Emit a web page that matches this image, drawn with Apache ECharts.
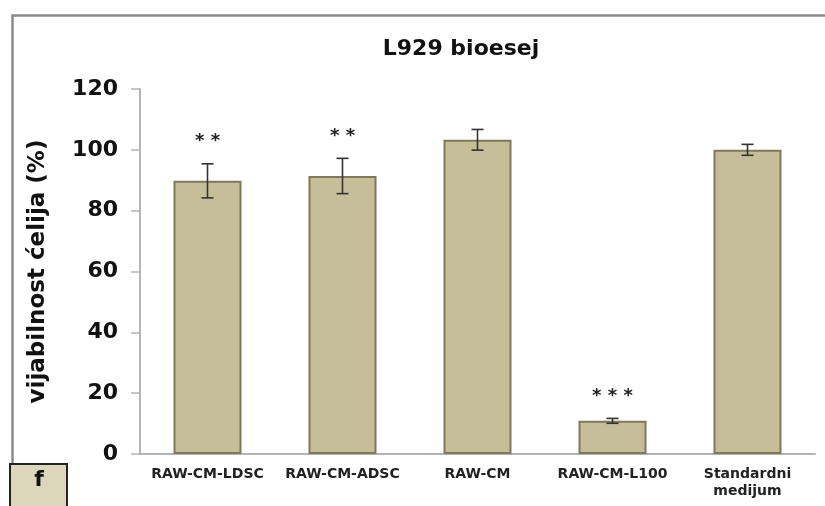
<!DOCTYPE html>
<html>
<head>
<meta charset="utf-8">
<script src="https://cdn.jsdelivr.net/npm/echarts@6/dist/echarts.min.js"></script>
<style>
  html, body { margin: 0; padding: 0; background: #fff; }
  #chart { width: 825px; height: 506px; }
</style>
</head>
<body>
<div id="chart"></div>
<script>
// Cell viability in the L929 bioassay (mean ± SD)
const categories = ['RAW-CM-LDSC', 'RAW-CM-ADSC', 'RAW-CM', 'RAW-CM-L100', 'Standardni\nmedijum'];
const viability = [89.8, 91.4, 103.3, 10.9, 100.0];
const errors = [5.6, 5.8, 3.4, 0.8, 1.8];
const significance = ['* *', '* *', '', '* * *', ''];
const yTicks = [0, 20, 40, 60, 80, 100, 120];

const FONT = '"DejaVu Sans", Verdana, sans-serif';

const chart = echarts.init(document.getElementById('chart'), null, { renderer: 'canvas' });

const errorData = categories.map((c, i) => [i, viability[i] - errors[i], viability[i] + errors[i], significance[i]]);

const option = {
  backgroundColor: '#ffffff',
  animation: false,
  title: {
    text: 'L929 bioesej',
    left: 456,
    top: 33,
    textAlign: 'center',
    textStyle: { fontFamily: FONT, fontSize: 22, fontWeight: 'bold', color: '#111' }
  },
  grid: { left: 140, right: 10, top: 89, bottom: 52, containLabel: false },
  xAxis: {
    type: 'category',
    data: categories,
    axisLine: { lineStyle: { color: '#b4b4b4', width: 2 } },
    axisTick: { show: false },
    axisLabel: {
      fontFamily: FONT, fontSize: 14, fontWeight: 'bold', color: '#222',
      margin: 12, lineHeight: 17, interval: 0
    }
  },
  yAxis: {
    type: 'value',
    min: 0, max: 120, interval: 20,
    name: 'vijabilnost ćelija (%)',
    nameLocation: 'middle',
    nameRotate: 90,
    nameGap: 90,
    nameTextStyle: { fontFamily: FONT, fontSize: 23, fontWeight: 'bold', color: '#111' },
    axisLine: { show: true, lineStyle: { color: '#b4b4b4', width: 2 } },
    axisTick: { show: true, length: 9, lineStyle: { color: '#b4b4b4', width: 1.5 } },
    splitLine: { show: false },
    axisLabel: {
      fontFamily: FONT, fontSize: 22, fontWeight: 'bold', color: '#111', margin: 22,
      formatter: v => (yTicks.includes(v) ? String(v) : '')
    }
  },
  series: [
    {
      type: 'bar',
      data: viability,
      barWidth: 68,
      itemStyle: { color: '#c6be99', borderColor: '#7f785a', borderWidth: 2 },
      z: 2
    },
    {
      type: 'custom',
      data: errorData,
      z: 3,
      renderItem: (params, api) => {
        const x = api.value(0);
        const lo = api.coord([x, api.value(1)]);
        const hi = api.coord([x, api.value(2)]);
        const cap = 6;
        const style = { stroke: '#333', lineWidth: 1.6, fill: null };
        const children = [
          { type: 'line', shape: { x1: lo[0], y1: lo[1], x2: hi[0], y2: hi[1] }, style },
          { type: 'line', shape: { x1: lo[0] - cap, y1: lo[1], x2: lo[0] + cap, y2: lo[1] }, style },
          { type: 'line', shape: { x1: hi[0] - cap, y1: hi[1], x2: hi[0] + cap, y2: hi[1] }, style }
        ];
        const sig = errorData[params.dataIndex][3];
        if (sig) {
          children.push({
            type: 'text',
            style: {
              text: sig, x: hi[0], y: hi[1] - 22,
              align: 'center', verticalAlign: 'middle',
              font: 'bold 18px ' + FONT, fill: '#222'
            }
          });
        }
        return { type: 'group', children };
      }
    }
  ],
  graphic: [
    {
      type: 'rect', left: 10, top: 13, z: -1, silent: true,
      shape: { x: 0, y: 0, width: 840, height: 520 },
      style: { fill: 'none', stroke: '#8a8a8a', lineWidth: 2.5 }
    },
    {
      type: 'group', left: 9, top: 463, z: 10,
      children: [
        { type: 'rect', shape: { x: 0, y: 0, width: 57, height: 60 },
          style: { fill: '#dcd6bd', stroke: '#222', lineWidth: 2 } },
        { type: 'text', style: { text: 'f', x: 29, y: 16, align: 'center', verticalAlign: 'middle',
          font: 'bold 22px ' + FONT, fill: '#111' } }
      ]
    }
  ]
};

chart.setOption(option);
</script>
</body>
</html>
